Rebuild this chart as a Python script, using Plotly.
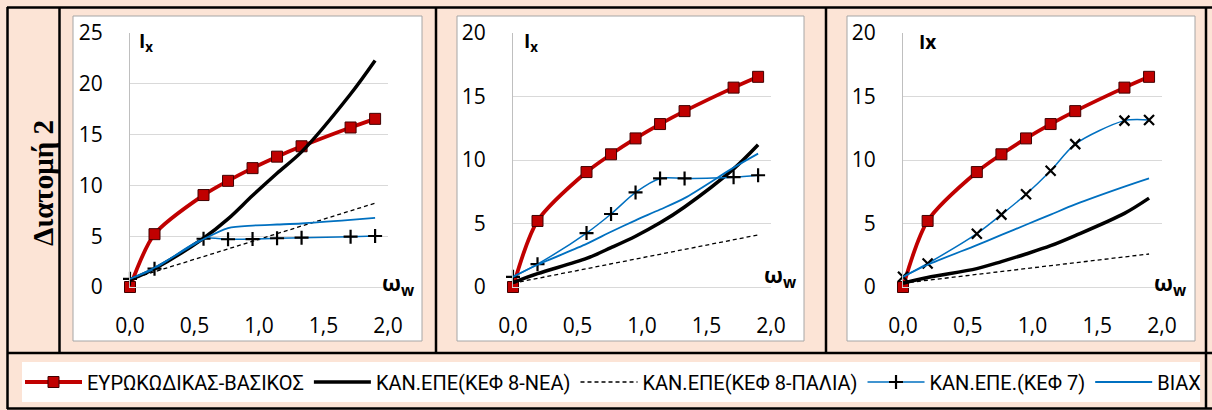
import plotly.graph_objects as go

W, H = 1212, 410

# ---------------- data ----------------
omega = [0, 0.19, 0.57, 0.76, 0.95, 1.14, 1.33, 1.71, 1.90]
series_names = ["ΕΥΡΩΚΩΔΙΚΑΣ-ΒΑΣΙΚΟΣ", "ΚΑΝ.ΕΠΕ(ΚΕΦ 8-ΝΕΑ)", "ΚΑΝ.ΕΠΕ(ΚΕΦ 8-ΠΑΛΙΑ)",
                "ΚΑΝ.ΕΠΕ.(ΚΕΦ 7)", "ΒΙΑΧ"]
row_label = "Διατομή 2"
x_ticks = [0, 0.5, 1.0, 1.5, 2.0]
x_tick_text = ["0,0", "0,5", "1,0", "1,5", "2,0"]

eurocode = [0, 5.2, 9.05, 10.45, 11.7, 12.83, 13.85, 15.7, 16.55]

p1_kef8_nea = [0.7, 1.8, 4.8, 6.7, 9.0, 11.2, 13.3, 19.0, 22.3]
p1_kef8_palia = [0.75, 1.5, 3.0, 3.75, 4.5, 5.25, 6.0, 7.5, 8.25]
p1_kef7 = [0.8, 1.8, 4.75, 4.7, 4.72, 4.8, 4.85, 4.95, 5.02]
p1_biax = [0.8, 1.9, 4.7, 5.8, 6.05, 6.15, 6.25, 6.6, 6.8]

p2_kef8_nea = [0.35, 1.05, 2.25, 3.1, 4.0, 5.05, 6.3, 9.3, 11.2]
p2_kef8_palia = [0.3, 0.68, 1.44, 1.82, 2.2, 2.58, 2.96, 3.72, 4.1]
p2_kef7 = [0.8, 1.8, 4.25, 5.75, 7.45, 8.55, 8.55, 8.65, 8.8]
p2_biax = [0.8, 1.75, 3.4, 4.35, 5.25, 6.1, 7.0, 9.4, 10.5]

p3_kef8_nea = [0.3, 0.75, 1.45, 2.0, 2.6, 3.25, 4.05, 5.8, 7.0]
p3_kef8_palia = [0.3, 0.53, 0.99, 1.22, 1.45, 1.68, 1.91, 2.37, 2.6]
p3_kef7 = [0.8, 1.85, 4.2, 5.7, 7.3, 9.15, 11.25, 13.1, 13.15]
p3_biax = [0.8, 1.75, 3.3, 4.1, 4.9, 5.7, 6.5, 7.9, 8.55]

y_max = [25, 20, 20]
y_titles = ["I<sub>x</sub>", "I<sub>x</sub>", "Ix"]
kef7_symbol = ["cross-thin", "cross-thin", "x-thin"]

panels = [
    (eurocode, p1_kef8_nea, p1_kef8_palia, p1_kef7, p1_biax),
    (eurocode, p2_kef8_nea, p2_kef8_palia, p2_kef7, p2_biax),
    (eurocode, p3_kef8_nea, p3_kef8_palia, p3_kef7, p3_biax),
]

# ---------------- layout geometry (pixels) ----------------
plot_x = [(130, 388), (513, 771), (903, 1162)]
plot_y = (33, 287)
boxes = [(73, 16, 422, 341), (457, 16, 804, 341), (847, 16, 1195, 341)]

RED = "#C00000"
BLUE = "#0070C0"
PEACH = "#FCE4D6"
FONT = "Open Sans"


def fx(px):
    return px / W


def fy(py):
    return 1 - py / H


fig = go.Figure()

for i, (eu, nea, palia, k7, bx) in enumerate(panels):
    ax = "" if i == 0 else str(i + 1)
    xa, ya = "x" + ax, "y" + ax
    show = i == 0
    fig.add_trace(go.Scatter(
        x=omega, y=eu, name=series_names[0], legendgroup="s0", showlegend=show,
        xaxis=xa, yaxis=ya, mode="lines+markers", cliponaxis=False,
        line=dict(color=RED, width=3.8, shape="spline", smoothing=0.8),
        marker=dict(symbol="square", size=11, color=RED, line=dict(color="#400000", width=1))))
    fig.add_trace(go.Scatter(
        x=omega, y=nea, name=series_names[1], legendgroup="s1", showlegend=show,
        xaxis=xa, yaxis=ya, mode="lines", cliponaxis=False,
        line=dict(color="black", width=3.5, shape="spline", smoothing=0.9)))
    fig.add_trace(go.Scatter(
        x=omega, y=palia, name=series_names[2], legendgroup="s2", showlegend=show,
        xaxis=xa, yaxis=ya, mode="lines", cliponaxis=False,
        line=dict(color="black", width=1.3, dash="4px,3px")))
    fig.add_trace(go.Scatter(
        x=omega, y=k7, name=series_names[3], legendgroup="s3", showlegend=show,
        xaxis=xa, yaxis=ya, mode="lines+markers", cliponaxis=False,
        line=dict(color=BLUE, width=1.5, shape="spline", smoothing=0.8),
        marker=dict(symbol=kef7_symbol[i], size=10, color="black",
                    line=dict(color="black", width=2.2))))
    fig.add_trace(go.Scatter(
        x=omega, y=bx, name=series_names[4], legendgroup="s4", showlegend=show,
        xaxis=xa, yaxis=ya, mode="lines", cliponaxis=False,
        line=dict(color=BLUE, width=1.8, shape="spline", smoothing=0.8)))

layout_axes = {}
for i in range(3):
    ax = "" if i == 0 else str(i + 1)
    layout_axes["xaxis" + ax] = dict(
        domain=[fx(plot_x[i][0]), fx(plot_x[i][1])], range=[0, 2], anchor="y" + ax,
        tickvals=x_ticks, ticktext=x_tick_text, showgrid=False, zeroline=False,
        showline=True, linecolor="#D9D9D9", linewidth=1, ticks="", automargin=False,
        ticklabelstandoff=20, tickfont=dict(family=FONT, size=21, color="black"),
        fixedrange=True)
    layout_axes["yaxis" + ax] = dict(
        domain=[fy(plot_y[1]), fy(plot_y[0])], range=[0, y_max[i]], anchor="x" + ax,
        dtick=5, showgrid=True, gridcolor="#D9D9D9", gridwidth=1, zeroline=False,
        showline=True, linecolor="#BFBFBF", linewidth=1, ticks="", automargin=False,
        ticklabelstandoff=22, tickfont=dict(family=FONT, size=21, color="black"),
        fixedrange=True)

shapes = []
# panel boxes
for (x0, y0, x1, y1) in boxes:
    shapes.append(dict(type="rect", xref="paper", yref="paper", layer="below",
                       x0=fx(x0), x1=fx(x1), y0=fy(y1), y1=fy(y0),
                       fillcolor="white", line=dict(color="#A6A6A6", width=1)))
# legend box
shapes.append(dict(type="rect", xref="paper", yref="paper", layer="below",
                   x0=fx(22), x1=fx(1200), y0=fy(402), y1=fy(362),
                   fillcolor="white", line=dict(width=0)))
# table lines
black_lines = [
    (7, 7.5, 1212, 7.5),
    (7, 353, 1212, 353),
    (7, 408.5, 1212, 408.5),
    (7.5, 7, 7.5, 409),
    (59.5, 7, 59.5, 353),
    (436, 7, 436, 353),
    (826, 7, 826, 353),
    (1206, 7, 1206, 409),
]
for (x0, y0, x1, y1) in black_lines:
    shapes.append(dict(type="line", xref="paper", yref="paper", layer="above",
                       x0=fx(x0), x1=fx(x1), y0=fy(y0), y1=fy(y1),
                       line=dict(color="black", width=2.5)))

annotations = []
annotations.append(dict(text="<b>" + row_label + "</b>", xref="paper", yref="paper",
                        x=fx(43), y=fy(183), showarrow=False, textangle=-90,
                        font=dict(family="Liberation Serif", size=29, color="black"),
                        xanchor="center", yanchor="middle"))
title_x = [140, 525, 920]
wx = [383, 765, 1155]
wy = [284, 276, 284]
for i in range(3):
    annotations.append(dict(text="<b>" + y_titles[i] + "</b>", xref="paper", yref="paper",
                            x=fx(title_x[i] - 2), y=fy(42), showarrow=False,
                            xanchor="left", yanchor="middle", borderpad=0,
                            font=dict(family=FONT, size=19, color="black")))
    annotations.append(dict(text="<b>ω<sub>w</sub></b>", xref="paper", yref="paper",
                            x=fx(wx[i] - 2), y=fy(wy[i]), showarrow=False,
                            xanchor="left", yanchor="middle", borderpad=0,
                            font=dict(family=FONT, size=22, color="black")))

fig.update_layout(
    width=W, height=H, margin=dict(l=0, r=0, t=0, b=0, pad=0), autosize=False,
    paper_bgcolor=PEACH, plot_bgcolor="rgba(0,0,0,0)",
    showlegend=True,
    legend=dict(orientation="h", x=fx(20), y=fy(382), xanchor="left", yanchor="middle",
                bgcolor="rgba(0,0,0,0)", font=dict(family="Roboto", size=20, color="black"),
                itemwidth=57, traceorder="normal", itemclick=False, itemdoubleclick=False),
    shapes=shapes, annotations=annotations,
    **layout_axes,
)

fig.write_html("out.html", config={"displayModeBar": False},
               post_script="document.body.style.margin='0';"
                           "document.documentElement.style.margin='0';"
                           "document.body.style.overflow='hidden';")
